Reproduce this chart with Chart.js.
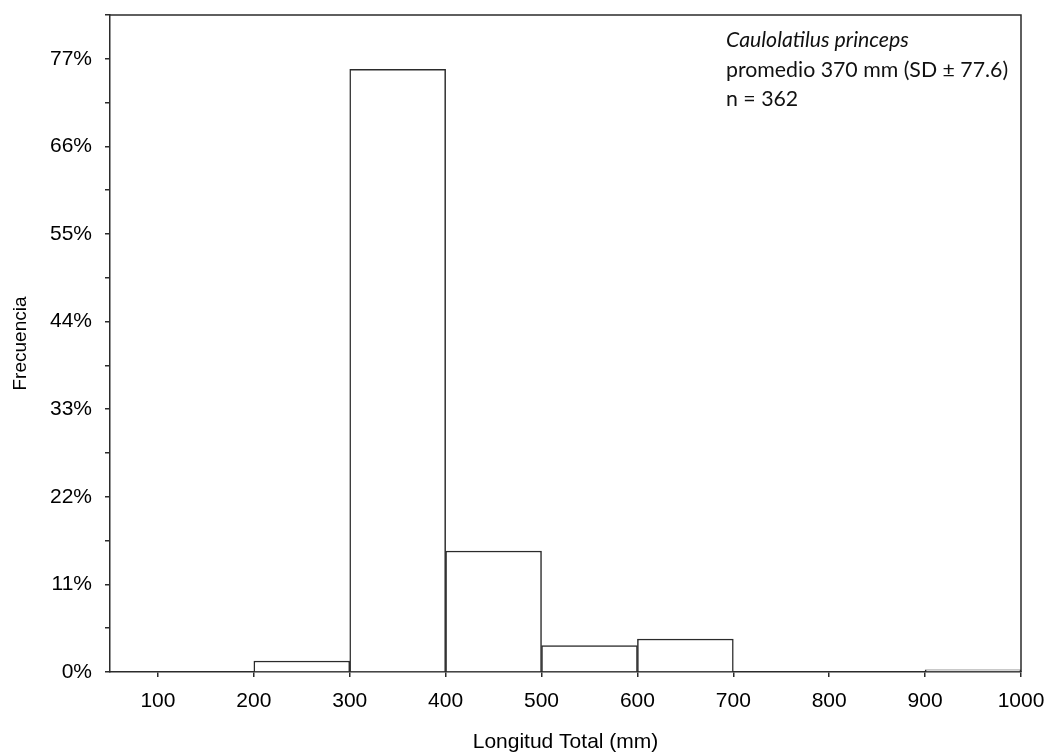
<!DOCTYPE html>
<html>
<head>
<meta charset="utf-8">
<title>Caulolatilus princeps - Longitud Total</title>
<script src="https://cdn.jsdelivr.net/npm/chart.js@4/dist/chart.umd.min.js"></script>
<style>
  html, body { margin: 0; padding: 0; background: #fff; }
  #wrap { width: 1050px; height: 755px; }
</style>
</head>
<body>
<div id="wrap"><canvas id="chart" width="1050" height="755"></canvas></div>
<script>
// Length-class bins (mm): each bar spans [binStart, binStart + 100)
const binStarts = [100, 200, 300, 400, 500, 600, 700, 800, 900];
// Relative frequency (%) per bin
const frequencyPct = [0, 1.38, 75.69, 15.19, 3.31, 4.14, 0, 0, 0.28];
// Axis ticks
const xTickValues = [100, 200, 300, 400, 500, 600, 700, 800, 900, 1000];
const yTickValues = [0, 5.5, 11, 16.5, 22, 27.5, 33, 38.5, 44, 49.5, 55, 60.5, 66, 71.5, 77, 82.5];
const yLabelledTicks = [0, 11, 22, 33, 44, 55, 66, 77];
// Text block in the upper right
const speciesName = 'Caulolatilus princeps';
const infoLines = ['promedio 370 mm (SD \u00B1 77.6)', 'n = 362'];

const binWidth = 100;
const points = binStarts.map((s, i) => ({ x: s + binWidth / 2, y: frequencyPct[i] }));

const axisColor = '#2b2b2b';
const tickFont = { family: '"Liberation Sans", Arial, sans-serif', size: 21 };

// Closes the plot box with top and right edges
const frameEdges = {
  id: 'frameEdges',
  afterDatasetsDraw(chart) {
    const { ctx, chartArea: a } = chart;
    ctx.save();
    ctx.strokeStyle = axisColor;
    ctx.lineWidth = 1.5;
    ctx.beginPath();
    ctx.moveTo(a.left, a.top);
    ctx.lineTo(a.right, a.top);
    ctx.lineTo(a.right, a.bottom);
    ctx.stroke();
    ctx.restore();
  }
};

// Species name and sample statistics
const infoText = {
  id: 'infoText',
  afterDraw(chart) {
    const { ctx } = chart;
    ctx.save();
    ctx.fillStyle = '#111';
    ctx.textBaseline = 'middle';
    ctx.textAlign = 'left';
    const x = 726;
    ctx.font = 'italic 21.3px Lato, "Open Sans", sans-serif';
    ctx.fillText(speciesName, x, 40);
    ctx.font = '21.3px Lato, "Open Sans", sans-serif';
    infoLines.forEach((t, i) => ctx.fillText(t, x, 70 + i * 29.5));
    ctx.restore();
  }
};

new Chart(document.getElementById('chart'), {
  type: 'bar',
  data: {
    datasets: [{
      data: points,
      backgroundColor: '#ffffff',
      borderColor: axisColor,
      borderWidth: 1.5,
      borderSkipped: 'start',
      barPercentage: 1.0,
      categoryPercentage: 1.0,
      grouped: false
    }]
  },
  options: {
    responsive: false,
    animation: false,
    devicePixelRatio: 1,
    layout: { padding: { top: 15, right: 29, left: 0, bottom: 0 } },
    plugins: { legend: { display: false }, tooltip: { enabled: false } },
    scales: {
      x: {
        type: 'linear',
        min: 50,
        max: 1000,
        offset: false,
        afterBuildTicks(scale) { scale.ticks = xTickValues.map(v => ({ value: v })); },
        afterFit(scale) {
          scale.height = 83;
          scale.paddingLeft = 0;
          scale.paddingRight = 0;
        },
        grid: { offset: false, drawOnChartArea: false, drawTicks: true, tickLength: 5, color: axisColor, lineWidth: 1.5 },
        border: { display: true, color: axisColor, width: 1.5 },
        ticks: {
          color: '#000',
          font: tickFont,
          padding: 12,
          maxRotation: 0,
          autoSkip: false,
          callback: (v) => String(v)
        },
        title: {
          display: true,
          text: 'Longitud Total (mm)',
          color: '#000',
          font: { family: '"Liberation Sans", Arial, sans-serif', size: 21 },
          padding: { top: 4, bottom: 0 }
        }
      },
      y: {
        min: 0,
        max: 82.5,
        afterBuildTicks(scale) { scale.ticks = yTickValues.map(v => ({ value: v })); },
        afterFit(scale) {
          scale.width = 110;
          scale.paddingTop = 0;
          scale.paddingBottom = 0;
        },
        grid: { drawOnChartArea: false, drawTicks: true, tickLength: 5, color: axisColor, lineWidth: 1.5 },
        border: { display: true, color: axisColor, width: 1.5 },
        ticks: {
          color: '#000',
          font: tickFont,
          padding: 13,
          autoSkip: false,
          callback: (v) => yLabelledTicks.includes(v) ? v + '%' : ''
        },
        title: {
          display: true,
          text: 'Frecuencia',
          color: '#000',
          font: { family: '"Liberation Sans", Arial, sans-serif', size: 19 },
          padding: { top: 9, bottom: 0 }
        }
      }
    }
  },
  plugins: [frameEdges, infoText]
});
</script>
</body>
</html>
